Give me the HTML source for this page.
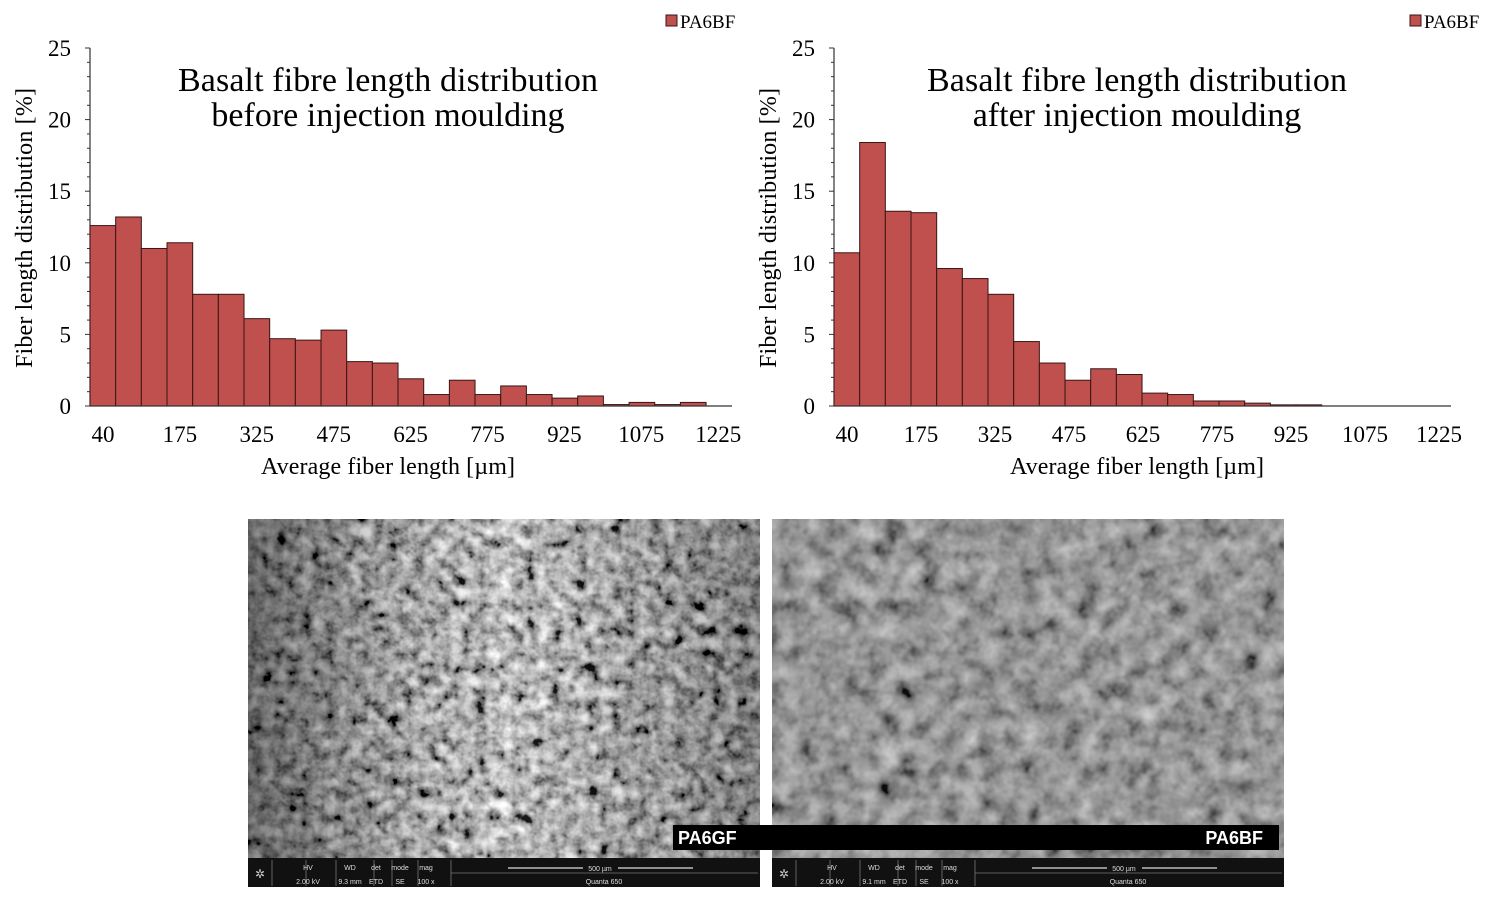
<!DOCTYPE html><html><head><meta charset="utf-8"><style>
body{margin:0;background:#fff;width:1500px;height:900px;overflow:hidden}
svg text{font-family:"Liberation Serif",serif}
</style></head><body>
<svg id="s" width="1500" height="900" xmlns="http://www.w3.org/2000/svg">
<defs>
<filter id="nL" x="0" y="0" width="100%" height="100%"><feTurbulence type="fractalNoise" baseFrequency="0.08" numOctaves="3" seed="3"/><feColorMatrix type="matrix" values="0.33 0.33 0.33 0 0  0.33 0.33 0.33 0 0  0.33 0.33 0.33 0 0  0 0 0 0 1"/><feComponentTransfer><feFuncR type="linear" slope="2.6" intercept="-0.85"/><feFuncG type="linear" slope="2.6" intercept="-0.85"/><feFuncB type="linear" slope="2.6" intercept="-0.85"/></feComponentTransfer></filter>
<filter id="nR" x="0" y="0" width="100%" height="100%"><feTurbulence type="fractalNoise" baseFrequency="0.05" numOctaves="3" seed="7"/><feColorMatrix type="matrix" values="0.33 0.33 0.33 0 0  0.33 0.33 0.33 0 0  0.33 0.33 0.33 0 0  0 0 0 0 1"/><feComponentTransfer><feFuncR type="linear" slope="1.4" intercept="-0.38"/><feFuncG type="linear" slope="1.4" intercept="-0.38"/><feFuncB type="linear" slope="1.4" intercept="-0.38"/></feComponentTransfer></filter>
<linearGradient id="lg" x1="0" x2="1" y1="0" y2="0"><stop offset="0" stop-color="#000" stop-opacity="0.45"/><stop offset="0.3" stop-color="#000" stop-opacity="0.1"/><stop offset="0.5" stop-color="#fff" stop-opacity="0.1"/><stop offset="0.8" stop-color="#000" stop-opacity="0.15"/><stop offset="1" stop-color="#000" stop-opacity="0.3"/></linearGradient>
</defs>
<rect x="248" y="519" width="512" height="340" fill="#777"/>
<rect x="248" y="519" width="512" height="340" filter="url(#nL)"/>
<rect x="248" y="519" width="512" height="340" fill="url(#lg)"/>
<rect x="772" y="519" width="512" height="340" fill="#808080"/>
<rect x="772" y="519" width="512" height="340" filter="url(#nR)" opacity="0.9"/>
<g id="g"></g>
</svg>
<script>
const g=document.getElementById('g');let h='';
const Y0=406,K=(406-48)/25;
function chart(ax,ae,data,labels,title1,title2,legx,tx){
 const w=25.67;
 h+=`<line x1="${ax}" y1="48" x2="${ax}" y2="${Y0}" stroke="#333" stroke-width="1.2"/>`;
 for(let i=0;i<=25;i++){const y=Y0-i*K;h+=`<line x1="${ax-(i%5?3:5)}" y1="${y}" x2="${ax}" y2="${y}" stroke="#333"/>`;}
 for(let v=0;v<=25;v+=5)h+=`<text x="${ax-19}" y="${Y0-v*K+8}" font-size="23" text-anchor="end">${v}</text>`;
 data.forEach((d,i)=>{h+=`<rect x="${ax+i*w}" y="${Y0-d*K}" width="${w}" height="${d*K}" fill="#c0504d" stroke="#3a1515" stroke-width="1"/>`;});
 h+=`<line x1="${ax}" y1="${Y0}" x2="${ae}" y2="${Y0}" stroke="#333" stroke-width="1.2"/>`;
 labels.forEach((l,i)=>{h+=`<text x="${l[1]}" y="442" font-size="23" text-anchor="middle">${l[0]}</text>`;});
 h+=`<text x="${tx}" y="91" font-size="34" text-anchor="middle" textLength="420">${title1}</text><text x="${tx}" y="126" font-size="34" text-anchor="middle">${title2}</text>`;
 h+=`<text x="${tx}" y="474" font-size="24" text-anchor="middle" textLength="254">Average fiber length [µm]</text>`;
 h+=`<text transform="translate(${ax-58},228) rotate(-90)" font-size="24" text-anchor="middle" textLength="280">Fiber length distribution [%]</text>`;
 h+=`<rect x="${legx}" y="15" width="11" height="11" fill="#c0504d" stroke="#3a1515"/><text x="${legx+14}" y="28" font-size="19">PA6BF</text>`;
}
const L=['40','175','325','475','625','775','925','1075','1225'];
chart(90,732,[12.6,13.2,11,11.4,7.8,7.8,6.1,4.7,4.6,5.3,3.1,3.0,1.9,0.8,1.8,0.8,1.4,0.8,0.55,0.7,0.1,0.25,0.1,0.25],L.map((l,i)=>[l,103+i*76.9]),'Basalt fibre length distribution','before injection moulding',666,388);
chart(834,1451,[10.7,18.4,13.6,13.5,9.6,8.9,7.8,4.5,3.0,1.8,2.6,2.2,0.9,0.8,0.35,0.35,0.2,0.08,0.08],L.map((l,i)=>[l,847+i*74]),'Basalt fibre length distribution','after injection moulding',1410,1137);
function info(x,wd){
 h+=`<rect x="${x}" y="858" width="512" height="29" fill="#111"/>`;
 const c=[[x+66,'HV','2.00 kV'],[x+108,'WD',wd],[x+134,'det','ETD'],[x+158,'mode','SE'],[x+184,'mag','100 x']];
 const seps=[x+24,x+58,x+88,x+126,x+144,x+170,x+203];
 seps.forEach(s=>h+=`<line x1="${s}" y1="860" x2="${s}" y2="886" stroke="#777" stroke-width="0.8"/>`);
 c.forEach(e=>{h+=`<text x="${e[0]-6}" y="870" font-size="7" fill="#ddd" text-anchor="middle" style="font-family:'Liberation Sans'">${e[1]}</text><text x="${e[0]-6}" y="884" font-size="7" fill="#ddd" text-anchor="middle" style="font-family:'Liberation Sans'">${e[2]}</text>`});
 h+=`<line x1="${x+203}" y1="873" x2="${x+510}" y2="873" stroke="#777" stroke-width="0.8"/>`;
 h+=`<line x1="${x+260}" y1="868" x2="${x+335}" y2="868" stroke="#bbb" stroke-width="1.5"/><line x1="${x+370}" y1="868" x2="${x+445}" y2="868" stroke="#bbb" stroke-width="1.5"/>`;
 h+=`<text x="${x+352}" y="871" font-size="7" fill="#ddd" text-anchor="middle" style="font-family:'Liberation Sans'">500 µm</text><text x="${x+356}" y="884" font-size="7" fill="#ddd" text-anchor="middle" style="font-family:'Liberation Sans'">Quanta 650</text>`;
 h+=`<text x="${x+12}" y="878" font-size="12" fill="#ccc" text-anchor="middle">✲</text>`;
}
h+=`<rect x="760" y="515" width="12" height="375" fill="#fff"/>`;
info(248,'9.3 mm');info(772,'9.1 mm');
h+=`<rect x="673" y="825" width="606" height="25" fill="#000"/>`;
h+=`<text x="678" y="844" font-size="18" font-weight="bold" fill="#fff" style="font-family:'Liberation Sans'">PA6GF</text><text x="1263" y="844" font-size="18" font-weight="bold" fill="#fff" text-anchor="end" style="font-family:'Liberation Sans'">PA6BF</text>`;
g.innerHTML=h;
</script>
</body></html>
